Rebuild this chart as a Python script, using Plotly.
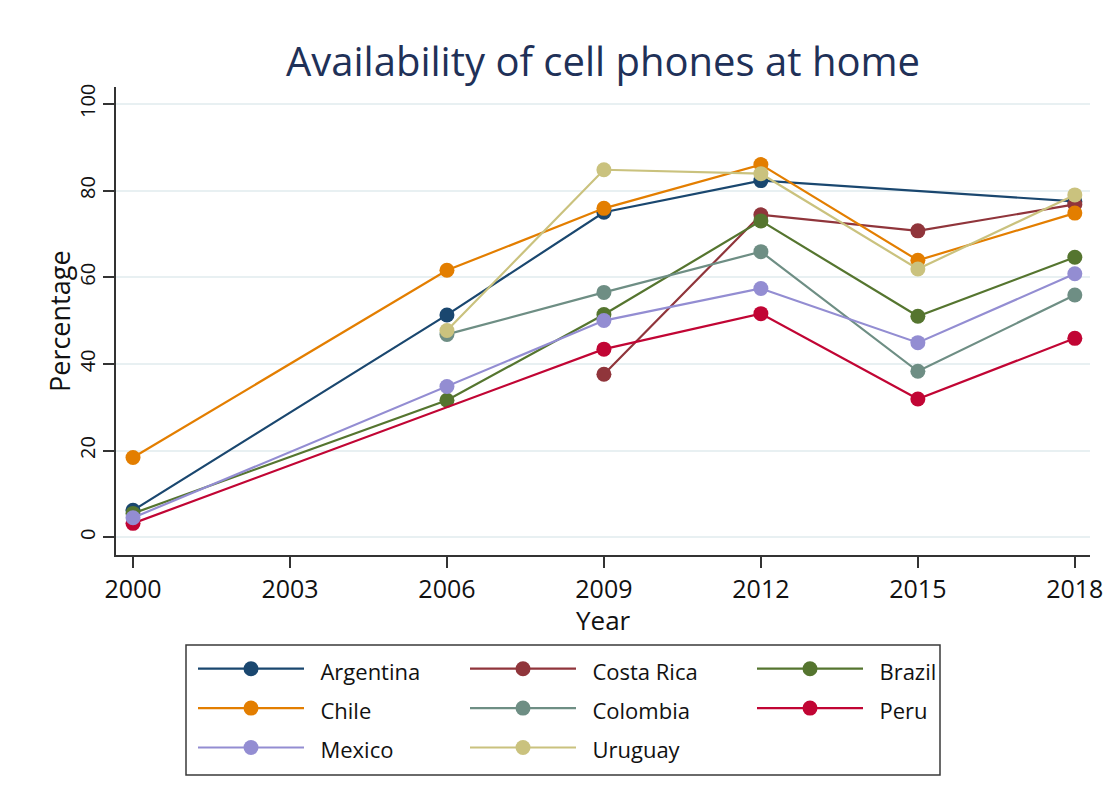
import plotly.graph_objects as go

# Survey years and share of households with a cell phone (%)
years = [2000, 2006, 2009, 2012, 2015, 2018]

argentina = [6.2, 51.3, 75.0, 82.3, None, 77.5]
costa_rica = [None, None, 37.6, 74.4, 70.7, 76.8]
brazil = [5.5, 31.6, 51.4, 73.0, 51.0, 64.6]
chile = [18.4, 61.6, 75.9, 86.0, 63.9, 74.8]
colombia = [None, 46.8, 56.5, 65.9, 38.3, 55.9]
peru = [3.2, None, 43.4, 51.6, 31.9, 45.9]
mexico = [4.5, 34.8, 50.0, 57.4, 44.9, 60.8]
uruguay = [None, 47.7, 84.8, 83.9, 61.9, 79.0]

x_ticks = [2000, 2003, 2006, 2009, 2012, 2015, 2018]
y_ticks = [0, 20, 40, 60, 80, 100]

# (name, values, colour, legend column)
series = [
    ("Argentina", argentina, "#1a476f", "legend"),
    ("Costa Rica", costa_rica, "#90353b", "legend2"),
    ("Brazil", brazil, "#55752f", "legend3"),
    ("Chile", chile, "#e37e00", "legend"),
    ("Colombia", colombia, "#6e8e84", "legend2"),
    ("Peru", peru, "#c10534", "legend3"),
    ("Mexico", mexico, "#938dd2", "legend"),
    ("Uruguay", uruguay, "#cac27e", "legend2"),
]

FONT = "'Open Sans', Lato, sans-serif"
W, H = 1110, 806
L, R, T, B = 116, 20, 87, 251
PW, PH = W - L - R, H - T - B
NBSP = "\u00a0"

fig = go.Figure()
for name, values, color, leg in series:
    fig.add_trace(go.Scatter(
        x=years, y=values,
        name=f"<span style='font-size:22px'>{NBSP * 2}{name}</span>",
        mode="lines+markers", connectgaps=True,
        line=dict(color=color, width=2.2),
        marker=dict(color=color, size=15),
        legend=leg,
    ))


def legend_column(left_px):
    # one column of the legend; the large base font size sets the row pitch
    return dict(
        orientation="v",
        xref="container", yref="container",
        x=left_px / W, xanchor="left",
        y=1 - 644 / H, yanchor="top",
        bgcolor="rgba(0,0,0,0)", borderwidth=0,
        itemwidth=106,
        font=dict(family=FONT, size=28, color="#111111"),
        traceorder="normal",
    )


fig.update_layout(
    width=W, height=H,
    paper_bgcolor="white", plot_bgcolor="white",
    margin=dict(l=L, r=R, t=T, b=B, autoexpand=False),
    font=dict(family=FONT, color="#111111"),
    title=dict(
        text="Availability of cell phones at home",
        x=0.5, xref="paper", xanchor="center",
        y=1 - 62 / H, yanchor="middle",
        font=dict(family=FONT, size=40, color="#1f3158"),
    ),
    showlegend=True,
    legend=legend_column(193),
    legend2=legend_column(465),
    legend3=legend_column(752),
    shapes=[dict(
        type="rect", xref="paper", yref="paper",
        x0=(186 - L) / PW, x1=(940 - L) / PW,
        y0=(H - B - 775) / PH, y1=(H - B - 645) / PH,
        line=dict(color="#3a3a3a", width=1.5),
        fillcolor="rgba(0,0,0,0)", layer="below",
    )],
    annotations=[
        dict(text="Year", xref="paper", yref="paper",
             x=0.5, y=(H - B - 620) / PH, xanchor="center", yanchor="middle",
             showarrow=False, font=dict(family=FONT, size=26, color="#111111")),
        dict(text="Percentage", xref="paper", yref="paper",
             x=(59 - L) / PW, y=0.5, xanchor="center", yanchor="middle",
             textangle=-90, showarrow=False,
             font=dict(family=FONT, size=27, color="#111111")),
    ],
)

fig.update_xaxes(
    range=[1999.675, 2018.29],
    tickvals=x_ticks,
    ticks="outside", ticklen=11, tickwidth=1.5, tickcolor="#333333",
    showline=True, linecolor="#333333", linewidth=1.5,
    showgrid=False, zeroline=False,
    tickfont=dict(family=FONT, size=25, color="#111111"),
)

fig.update_yaxes(
    range=[-4.1, 103.9],
    tickvals=y_ticks,
    tickangle=-90,
    ticks="outside", ticklen=11, tickwidth=1.5, tickcolor="#333333",
    showline=True, linecolor="#333333", linewidth=1.5,
    showgrid=True, gridcolor="#e8f0f2", gridwidth=1.5,
    zeroline=False,
    tickfont=dict(family=FONT, size=20, color="#111111"),
)

fig.write_html("out.html")
